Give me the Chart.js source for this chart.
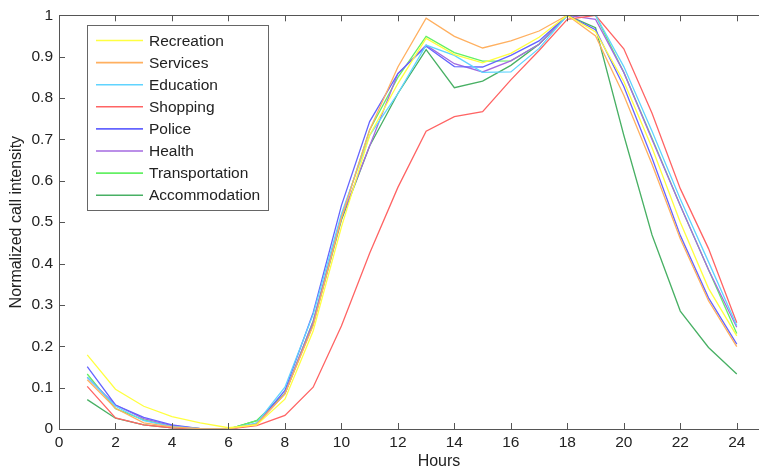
<!DOCTYPE html>
<html>
<head>
<meta charset="utf-8">
<script src="https://cdn.jsdelivr.net/npm/chart.js@4/dist/chart.umd.min.js"></script>
<style>
html,body{margin:0;padding:0;background:#fff;overflow:hidden;}
#wrap{width:770px;height:472px;position:relative;}
</style>
</head>
<body>
<div id="wrap"><canvas id="c"></canvas></div>
<script>
const hours = [1,2,3,4,5,6,7,8,9,10,11,12,13,14,15,16,17,18,19,20,21,22,23,24];
const seriesNames = ['Recreation','Services','Education','Shopping','Police','Health','Transportation','Accommodation'];
const seriesColors = ['#ffff40','#ffb060','#60d4ff','#ff6464','#6464ff','#a46ae0','#64f064','#48b064'];
const recreation     = [0.179,0.096,0.055,0.030,0.015,0.003,0.010,0.072,0.237,0.488,0.710,0.835,0.944,0.905,0.885,0.908,0.947,1.000,0.960,0.840,0.680,0.500,0.340,0.225];
const services       = [0.119,0.050,0.015,0.005,0.001,0.000,0.012,0.085,0.250,0.510,0.723,0.875,0.993,0.949,0.921,0.938,0.962,1.000,0.950,0.807,0.640,0.460,0.310,0.199];
const education      = [0.125,0.055,0.020,0.006,0.001,0.000,0.015,0.101,0.277,0.520,0.710,0.811,0.928,0.903,0.862,0.863,0.920,1.000,1.000,0.876,0.720,0.556,0.404,0.250];
const shopping       = [0.103,0.027,0.010,0.003,0.000,0.000,0.008,0.033,0.101,0.249,0.425,0.584,0.720,0.755,0.767,0.844,0.915,0.990,1.000,0.919,0.763,0.581,0.436,0.257];
const police         = [0.151,0.058,0.028,0.010,0.001,0.000,0.012,0.093,0.281,0.540,0.743,0.859,0.925,0.876,0.875,0.903,0.938,1.000,0.965,0.828,0.655,0.468,0.317,0.205];
const health         = [0.125,0.058,0.025,0.008,0.001,0.000,0.012,0.085,0.260,0.510,0.684,0.859,0.928,0.883,0.863,0.890,0.930,1.000,0.990,0.862,0.700,0.540,0.385,0.246];
const transportation = [0.133,0.049,0.022,0.006,0.001,0.000,0.020,0.086,0.261,0.512,0.723,0.850,0.949,0.910,0.889,0.890,0.930,1.000,1.000,0.862,0.703,0.540,0.385,0.231];
const accommodation  = [0.071,0.026,0.010,0.003,0.000,0.000,0.020,0.086,0.253,0.505,0.684,0.811,0.917,0.825,0.841,0.879,0.930,1.000,0.970,0.710,0.469,0.285,0.197,0.133];
const seriesData = [recreation,services,education,shopping,police,health,transportation,accommodation];
const xTicks = [0,2,4,6,8,10,12,14,16,18,20,22,24];
const yTicks = [0,0.1,0.2,0.3,0.4,0.5,0.6,0.7,0.8,0.9,1];
const xTitle = 'Hours';

const FONT = 'Liberation Sans, Arial, sans-serif';
const AXIS = '#555';

const datasets = seriesNames.map((n,i)=>({
  label:n,
  data: hours.map((h,j)=>({x:h,y:seriesData[i][j]})),
  borderColor: seriesColors[i],
  borderWidth: 1.3,
  pointRadius: 0,
  tension: 0,
  fill: false
}));

const frame = {
  id:'frame',
  afterDraw(chart){
    const {ctx, chartArea:a, scales:{x,y}} = chart;
    ctx.save();
    ctx.strokeStyle = AXIS; ctx.lineWidth = 1;
    ctx.strokeRect(Math.round(a.left)+0.5, Math.round(a.top)+0.5, Math.round(a.right-a.left), Math.round(a.bottom-a.top));
    ctx.beginPath();
    const L = 6;
    xTicks.forEach(v=>{
      const px = Math.round(x.getPixelForValue(v))+0.5;
      ctx.moveTo(px,a.bottom); ctx.lineTo(px,a.bottom-L);
      ctx.moveTo(px,a.top); ctx.lineTo(px,a.top+L);
    });
    yTicks.forEach(v=>{
      const py = Math.round(y.getPixelForValue(v))+0.5;
      ctx.moveTo(a.left,py); ctx.lineTo(a.left+L,py);
      ctx.moveTo(a.right,py); ctx.lineTo(a.right-L,py);
    });
    ctx.stroke();
    // x title
    ctx.fillStyle = '#222';
    ctx.font = '16px ' + FONT;
    ctx.textAlign = 'center';
    ctx.textBaseline = 'middle';
    ctx.fillText(xTitle, 439, 462);
    // legend
    const bx = 87, by = 25, bw = 181, bh = 185;
    ctx.fillStyle = '#fff';
    ctx.fillRect(bx+0.5,by+0.5,bw,bh);
    ctx.strokeStyle = '#666';
    ctx.strokeRect(bx+0.5,by+0.5,bw,bh);
    ctx.font = '15.5px ' + FONT;
    ctx.textBaseline = 'middle';
    ctx.textAlign = 'left';
    chart.data.datasets.forEach((d,i)=>{
      const cy = 40.5 + i*22.1;
      ctx.strokeStyle = d.borderColor; ctx.lineWidth = 1.6;
      ctx.beginPath(); ctx.moveTo(96,cy); ctx.lineTo(143,cy); ctx.stroke();
      ctx.fillStyle = '#222';
      ctx.fillText(d.label,149,cy+1);
    });
    ctx.restore();
  }
};

new Chart(document.getElementById('c'),{
  type:'line',
  data:{datasets},
  options:{
    responsive:true, maintainAspectRatio:false, animation:false,
    layout:{padding:{top:11,right:5,left:0,bottom:0}},
    plugins:{legend:{display:false},tooltip:{enabled:false}},
    scales:{
      x:{type:'linear',min:0,max:25,
        afterBuildTicks(s){ s.ticks = xTicks.map(v=>({value:v})); },
        afterFit(s){ s.height = 43; },
        grid:{display:false,drawTicks:false},
        border:{display:false},
        ticks:{padding:4,color:'#222',font:{family:FONT,size:15.5},maxRotation:0,autoSkip:false},
        title:{display:false}
      },
      y:{type:'linear',min:0,max:1,
        afterBuildTicks(s){ s.ticks = yTicks.map(v=>({value:v})); },
        afterFit(s){ s.width = 59; },
        grid:{display:false,drawTicks:false},
        border:{display:false},
        ticks:{padding:6,color:'#222',font:{family:FONT,size:15.5},autoSkip:false,callback:(v)=>String(Math.round(v*10)/10)},
        title:{display:true,text:'Normalized call intensity',color:'#222',font:{family:FONT,size:16},padding:{top:7,bottom:0}}
      }
    }
  },
  plugins:[frame]
});
</script>
</body>
</html>
